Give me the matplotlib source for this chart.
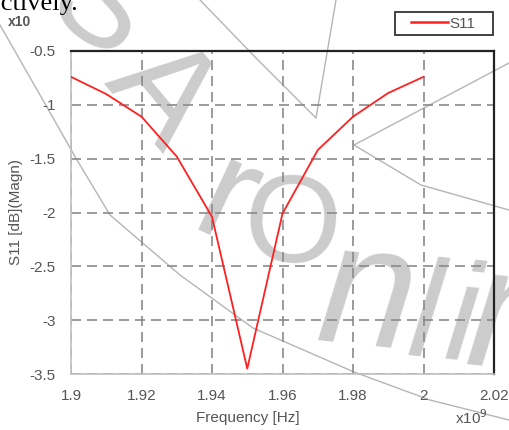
import matplotlib.pyplot as plt
from matplotlib.lines import Line2D
from matplotlib.patches import Rectangle

# Frequency in GHz (axis multiplier x10^9), S11 in dB/10 (axis multiplier x10)
freq = [1.90, 1.91, 1.92, 1.93, 1.94, 1.95, 1.96, 1.97, 1.98, 1.99, 2.00]
s11 = [-0.74, -0.90, -1.11, -1.48, -2.04, -3.45, -2.01, -1.42, -1.11, -0.89, -0.74]

x_ticks = [1.90, 1.92, 1.94, 1.96, 1.98, 2.00, 2.02]
x_labels = ["1.9", "1.92", "1.94", "1.96", "1.98", "2", "2.02"]
y_ticks = [-3.5, -3.0, -2.5, -2.0, -1.5, -1.0, -0.5]
y_labels = ["-3.5", "-3", "-2.5", "-2", "-1.5", "-1", "-0.5"]

# watermark letters: (char, x px, y px, size pt, rotation, style)
wm_letters = [
    ("S", 98, 12, 95, -35, "normal"),
    ("A", 160, 95, 100, -50, "normal"),
    ("r", 225, 205, 105, -25, "normal"),
    ("O", 291, 230, 90, -5, "normal"),
    ("n", 367, 300, 125, -6, "italic"),
    ("l", 425, 321, 100, -6, "italic"),
    ("i", 462, 323, 100, -6, "italic"),
    ("n", 516, 324, 125, -6, "italic"),
]
# thin watermark strokes, pixel coordinates
wm_strokes = [
    ([0, 40, 77, 110, 180, 253, 354, 430, 509], [25, 95, 160, 215, 275, 328, 372, 400, 420]),
    ([200, 255, 316, 336], [0, 57, 118, 0]),
    ([509, 354, 421, 509], [63, 145, 185, 210]),
]

plt.rcParams["font.family"] = ["Liberation Sans", "DejaVu Sans"]
TEXT = "#555555"
NARROW = ["Liberation Sans Narrow", "Liberation Sans", "DejaVu Sans"]
W, H = 509, 430

fig = plt.figure(figsize=(5.09, 4.30), dpi=100)

# background layer in pixel units for the watermark
bg = fig.add_axes([0, 0, 1, 1], zorder=0)
bg.set_xlim(0, W)
bg.set_ylim(H, 0)
bg.axis("off")
for ch, x, y, size, rot, style in wm_letters:
    bg.text(x, y, ch, fontsize=size, color="#cccccc", style=style,
            ha="center", va="center", rotation=rot, rotation_mode="anchor",
            clip_on=False)
for xs, ys in wm_strokes:
    bg.plot(xs, ys, color="#b5b5b5", lw=1.0)

ax = fig.add_axes([71 / W, 1 - 374 / H, 423 / W, 323 / H], zorder=1)
ax.set_facecolor("none")

ax.plot(freq, s11, color="#ff2020", lw=1.3, zorder=3)

ax.set_xlim(1.90, 2.02)
ax.set_ylim(-3.5, -0.5)
ax.set_xticks(x_ticks)
ax.set_xticklabels(x_labels, family=NARROW)
ax.set_yticks(y_ticks)
ax.set_yticklabels(y_labels, family=NARROW)
ax.tick_params(length=0, labelsize=11, colors=TEXT)
ax.tick_params(axis="x", pad=11)
ax.tick_params(axis="y", pad=11)

ax.grid(True, color="#8a8a8a", lw=1.2, linestyle=(0, (6, 3.6)))

for side in ("top", "right"):
    ax.spines[side].set_color("#222222")
    ax.spines[side].set_linewidth(1.6)
for side in ("left", "bottom"):
    ax.spines[side].set_color("#c0c0c0")
    ax.spines[side].set_linewidth(1.2)

ax.set_xlabel("Frequency [Hz]", fontsize=11, color=TEXT)
ax.xaxis.set_label_coords((248 - 71) / 423, -(418 - 374) / 323)
ax.xaxis.label.set_va("center")
ax.set_ylabel("S11 [dB](Magn)", fontsize=11, color=TEXT)
ax.yaxis.set_label_coords(-(71 - 16) / 423, 0.5)
ax.yaxis.label.set_va("center")

fig.text(8 / W, 1 - 22 / H, "x10", fontsize=10, color=TEXT, weight="bold",
         ha="left", va="center", family=NARROW)
fig.text(455 / W, 1 - 418 / H, r"x10$^9$", fontsize=11, color=TEXT,
         ha="left", va="center", family=NARROW)

# legend above the top right corner
fig.patches.append(Rectangle((395 / W, 1 - 35 / H), 98 / W, 23 / H,
                             transform=fig.transFigure, fill=False,
                             ec="#333333", lw=1.3, zorder=5))
leg = fig.legend([Line2D([], [], color="#ff2020", lw=1.8)], ["S11"],
                 loc="center", bbox_to_anchor=(443 / W, 1 - 23.5 / H),
                 frameon=False, prop={"family": NARROW, "size": 11},
                 handlelength=2.4, handletextpad=0.1, borderpad=0)
for t in leg.get_texts():
    t.set_color(TEXT)

# clipped line of body text above the figure
fig.text(-11 / W, 1 - 10 / H, "ectively.", fontsize=19, family="Liberation Serif",
         color="black", ha="left", va="baseline")

fig.savefig("out.png", dpi=100)
